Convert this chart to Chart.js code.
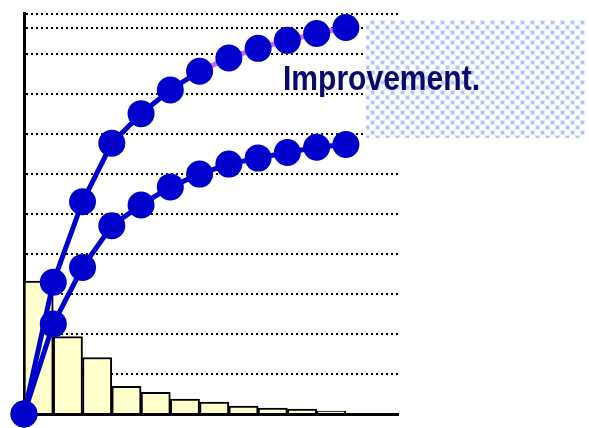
<!DOCTYPE html>
<html>
<head>
<meta charset="utf-8">
<title>Improvement</title>
<script src="https://cdn.jsdelivr.net/npm/chart.js@4.4.1/dist/chart.umd.min.js"></script>
<style>
  html, body { margin: 0; padding: 0; background: #ffffff; }
  #wrap { width: 589px; height: 428px; position: relative; }
</style>
</head>
<body>
<div id="wrap"><canvas id="chart" width="589" height="428"></canvas></div>
<script>
// Share of each cause, largest first (percent)
const causeShares = [33.2, 19.3, 14.1, 6.9, 5.4, 3.7, 3.0, 2.0, 1.5, 1.2, 0.7];
// Cumulative curves, one point per cause boundary (percent)
const upperCurve = [0, 32.9, 53.0, 67.6, 75.0, 80.9, 85.6, 88.9, 91.3, 93.3, 95.0, 96.5];
const lowerCurve = [0, 22.5, 36.6, 47.0, 52.2, 56.7, 59.9, 62.4, 63.9, 65.3, 66.6, 67.3];
// Horizontal guide levels (percent)
const guideLevels = [0, 10, 20, 30, 40, 50, 60, 70, 80, 90, 96.5, 100];
const calloutText = 'Improvement.';

const BLUE = '#0000cc';
const PINK = '#cc66ff';

// Light blue dotted fill for the callout box
function makePattern(ctx) {
  const t = document.createElement('canvas');
  t.width = 10; t.height = 10;
  const c = t.getContext('2d');
  c.fillStyle = '#ffffff';
  c.fillRect(0, 0, 10, 10);
  c.fillStyle = '#dfe6ff';
  c.fillRect(0, 0, 5, 5);
  c.fillRect(5, 5, 5, 5);
  c.fillStyle = '#b3c2ff';
  c.fillRect(1, 1, 3, 3);
  c.fillRect(6, 6, 3, 3);
  return ctx.createPattern(t, 'repeat');
}

const calloutPlugin = {
  id: 'callout',
  afterDraw(chart) {
    const ctx = chart.ctx;
    ctx.save();
    ctx.fillStyle = makePattern(ctx);
    ctx.fillRect(366, 20, 219, 118);
    ctx.font = 'bold 35px "Liberation Sans Narrow", "Arial Narrow", "Liberation Sans", sans-serif';
    ctx.fillStyle = '#0a0a6e';
    ctx.textBaseline = 'alphabetic';
    const w = ctx.measureText(calloutText).width;
    const target = 197;
    ctx.translate(283, 90);
    ctx.scale(target / w, 1);
    ctx.fillText(calloutText, 0, 0);
    ctx.restore();
  }
};

new Chart(document.getElementById('chart'), {
  data: {
    datasets: [
      {
        type: 'line',
        data: upperCurve.map((v, i) => ({ x: i, y: v })),
        borderColor: BLUE,
        borderWidth: 5,
        segment: { borderColor: c => (c.p0DataIndex >= 6 ? PINK : BLUE) },
        pointRadius: 13.5,
        pointBackgroundColor: BLUE,
        pointBorderWidth: 0,
        tension: 0,
        clip: false,
        order: 0
      },
      {
        type: 'line',
        data: lowerCurve.map((v, i) => ({ x: i, y: v })),
        borderColor: BLUE,
        borderWidth: 5,
        pointRadius: 13.5,
        pointBackgroundColor: BLUE,
        pointBorderWidth: 0,
        tension: 0,
        clip: false,
        order: 1
      },
      {
        type: 'bar',
        data: causeShares.map((v, i) => ({ x: i + 0.5, y: v })),
        backgroundColor: '#ffffcc',
        borderColor: '#000000',
        borderWidth: 2,
        barPercentage: 1,
        categoryPercentage: 1,
        order: 2
      }
    ]
  },
  options: {
    responsive: false,
    devicePixelRatio: 1,
    animation: false,
    layout: { padding: { left: 24, right: 191, top: 10, bottom: 14 } },
    plugins: { legend: { display: false }, tooltip: { enabled: false } },
    scales: {
      x: {
        type: 'linear',
        offset: false,
        min: 0,
        max: 12.78,
        ticks: { display: false },
        grid: { display: false, offset: false },
        border: { display: true, color: '#000000', width: 3 },
        afterFit: s => { s.height = 0; }
      },
      y: {
        type: 'linear',
        min: 0,
        max: 100,
        afterBuildTicks: s => { s.ticks = guideLevels.map(v => ({ value: v })); },
        ticks: { display: false },
        grid: { color: '#000000', lineWidth: 2, drawTicks: false },
        border: { display: true, color: '#000000', width: 3, dash: [2, 3] },
        afterFit: s => { s.width = 0; }
      }
    }
  },
  plugins: [calloutPlugin]
});
</script>
</body>
</html>
